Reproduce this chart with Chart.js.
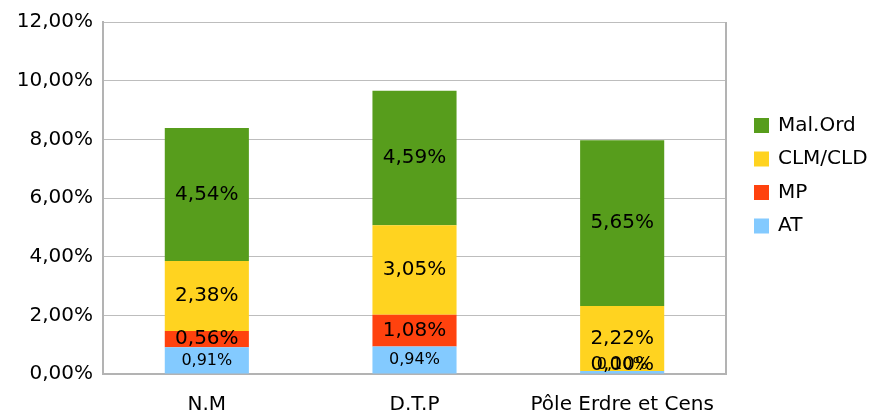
<!DOCTYPE html>
<html>
<head>
<meta charset="utf-8">
<script src="https://cdn.jsdelivr.net/npm/chart.js@4/dist/chart.umd.min.js"></script>
<style>
html,body{margin:0;padding:0;background:#fff;}
#wrap{width:876px;height:416px;position:relative;}
</style>
</head>
<body>
<div id="wrap"><canvas id="c" width="876" height="416"></canvas></div>
<script>
const categories = ['N.M', 'D.T.P', 'Pôle Erdre et Cens'];
const seriesNames = ['AT', 'MP', 'CLM/CLD', 'Mal.Ord'];
const atValues = [0.91, 0.94, 0.10];
const mpValues = [0.56, 1.08, 0.00];
const clmValues = [2.38, 3.05, 2.22];
const malOrdValues = [4.54, 4.59, 5.65];
const yMin = 0, yMax = 12, yStep = 2;
const seriesColors = ['#83caff', '#ff420e', '#ffd320', '#579d1c'];

const FONT = 'DejaVu Sans';
const fmt = v => v.toFixed(2).replace('.', ',') + '%';

const labelPlugin = {
  id: 'barLabels',
  afterDatasetsDraw(chart) {
    const ctx = chart.ctx;
    const bottom = chart.chartArea.bottom;
    ctx.save();
    ctx.textAlign = 'center';
    ctx.textBaseline = 'middle';
    ctx.fillStyle = '#000';
    chart.data.datasets.forEach((ds, di) => {
      const meta = chart.getDatasetMeta(di);
      const size = di === 0 ? 16 : 20;
      ctx.font = size + 'px "' + FONT + '"';
      meta.data.forEach((el, i) => {
        const p = el.getProps(['x', 'y', 'base'], true);
        let cy = (p.y + p.base) / 2;
        cy = Math.min(cy, bottom - 9);
        ctx.fillText(fmt(ds.data[i]), p.x, cy);
      });
    });
    ctx.restore();
  },
  afterDraw(chart) {
    const ctx = chart.ctx;
    const a = chart.chartArea;
    ctx.save();
    ctx.strokeStyle = '#b3b3b3';
    ctx.lineWidth = 2;
    ctx.beginPath();
    ctx.moveTo(a.right, a.top);
    ctx.lineTo(a.right, a.bottom);
    ctx.stroke();
    ctx.font = '20px "' + FONT + '"';
    ctx.textBaseline = 'middle';
    ctx.textAlign = 'left';
    const n = chart.data.datasets.length;
    const x0 = a.right + 28;
    const yStart = 125.5, gap = 33.5;
    for (let k = 0; k < n; k++) {
      const ds = chart.data.datasets[n - 1 - k];
      const cy = yStart + k * gap;
      ctx.fillStyle = ds.backgroundColor;
      ctx.fillRect(x0, cy - 7.5, 15, 15);
      ctx.fillStyle = '#000';
      ctx.fillText(ds.label, x0 + 24, cy);
    }
    ctx.restore();
  }
};

const dataSeries = [atValues, mpValues, clmValues, malOrdValues];

new Chart(document.getElementById('c'), {
  type: 'bar',
  data: {
    labels: categories,
    datasets: dataSeries.map((d, i) => ({
      label: seriesNames[i],
      data: d,
      backgroundColor: seriesColors[i],
      borderWidth: 0,
      barPercentage: 0.405,
      categoryPercentage: 1
    }))
  },
  options: {
    responsive: false,
    animation: false,
    layout: { padding: { top: 22, right: 150, left: 0, bottom: 0 } },
    plugins: { legend: { display: false }, tooltip: { enabled: false } },
    scales: {
      x: {
        stacked: true,
        grid: { display: false, drawTicks: false },
        border: { display: true, color: '#b3b3b3', width: 2 },
        ticks: { color: '#000', font: { family: FONT, size: 20 }, padding: 19, maxRotation: 0 },
        afterFit(s) { s.height = 42; }
      },
      y: {
        stacked: true,
        min: yMin, max: yMax,
        grid: { color: '#bdbdbd', lineWidth: 1, drawTicks: false },
        border: { display: true, color: '#b3b3b3', width: 2 },
        ticks: { stepSize: yStep, color: '#000', font: { family: FONT, size: 20 }, padding: 10, callback: v => fmt(v) },
        afterFit(s) { s.width = 103; }
      }
    }
  },
  plugins: [labelPlugin]
});
</script>
</body>
</html>
